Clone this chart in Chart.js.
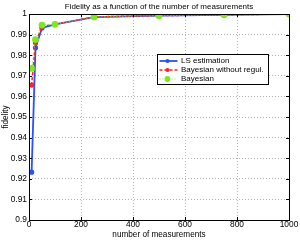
<!DOCTYPE html>
<html>
<head>
<meta charset="utf-8">
<script src="https://cdn.jsdelivr.net/npm/chart.js@4"></script>
<style>
  html, body { margin: 0; padding: 0; background: #fff; }
  #wrap { width: 300px; height: 241px; }
</style>
</head>
<body>
<div id="wrap"><canvas id="fidelity__chart"></canvas></div>
<script>
// Fidelity vs number of measurements
const measurements = [10, 25, 50, 100, 250, 500, 750, 1000];
const lsEstimation = [0.9232, 0.9836, 0.9932, 0.9950, 0.9985, 0.9992, 0.9996, 1.0000];
const bayesNoReg   = [0.9655, 0.9860, 0.9940, 0.9950, 0.9986, 0.9992, 0.9996, 1.0000];
const bayesian     = [0.9736, 0.9876, 0.9946, 0.9950, 0.9986, 0.9992, 0.9996, 1.0000];
const seriesNames  = ['LS estimation', 'Bayesian without regul.', 'Bayesian'];
const xTicks = [0, 200, 400, 600, 800, 1000];
const yTicks = [0.9, 0.91, 0.92, 0.93, 0.94, 0.95, 0.96, 0.97, 0.98, 0.99, 1];

const FONT = '"Liberation Sans", Arial, sans-serif';

function pts(ys) {
    return measurements.map((x, i) => ({ x: x, y: ys[i] }));
}

// title, box frame, inward ticks and legend box (matlab style)
const matlabBits = {
    id: 'matlabBits',
    afterDraw(chart) {
        const c = chart.ctx, a = chart.chartArea;
        const sx = chart.scales.x, sy = chart.scales.y;
        c.save();
        c.fillStyle = '#000';
        c.font = '8px ' + FONT;
        c.textAlign = 'center';
        c.textBaseline = 'middle';
        c.fillText('Fidelity as a function of the number of measurements', (a.left + a.right) / 2, 7);

        c.strokeStyle = '#000';
        c.lineWidth = 1;
        c.strokeRect(Math.round(a.left) + 0.5, Math.round(a.top) + 0.5,
            Math.round(a.right - a.left), Math.round(a.bottom - a.top));
        c.beginPath();
        sx.ticks.forEach((t, i) => {
            const px = Math.round(sx.getPixelForTick(i)) + 0.5;
            c.moveTo(px, a.bottom); c.lineTo(px, a.bottom - 3);
            c.moveTo(px, a.top); c.lineTo(px, a.top + 3);
        });
        sy.ticks.forEach((t, i) => {
            const py = Math.round(sy.getPixelForTick(i)) + 0.5;
            c.moveTo(a.left, py); c.lineTo(a.left + 3, py);
            c.moveTo(a.right, py); c.lineTo(a.right - 3, py);
        });
        c.stroke();

        // legend
        const bx = 157.5, by = 54.5, bw = 111, bh = 30;
        c.fillStyle = '#fff';
        c.fillRect(bx, by, bw, bh);
        c.strokeRect(bx, by, bw, bh);
        c.textAlign = 'left';
        chart.data.datasets.forEach((ds, i) => {
            const y = by + 6.5 + i * 9;
            c.strokeStyle = ds.borderColor;
            c.lineWidth = ds.borderWidth;
            c.setLineDash(ds.borderDash || []);
            c.beginPath();
            c.moveTo(bx + 2, y); c.lineTo(bx + 20, y);
            c.stroke();
            c.setLineDash([]);
            c.fillStyle = ds.pointBackgroundColor;
            c.beginPath();
            c.arc(bx + 10, y, ds.pointRadius - 0.5, 0, Math.PI * 2);
            c.fill();
            c.fillStyle = '#000';
            c.fillText(ds.label, bx + 23.5, y);
        });
        c.restore();
    }
};

new Chart(document.getElementById('fidelity__chart').getContext('2d'), {
    type: 'line',
    data: {
        datasets: [{
            label: seriesNames[0],
            data: pts(lsEstimation),
            borderColor: '#2a4fff',
            pointBackgroundColor: '#2a4fff',
            pointBorderWidth: 0,
            pointRadius: 2.6,
            borderWidth: 1.8,
            order: 3
        }, {
            label: seriesNames[1],
            data: pts(bayesNoReg),
            borderColor: '#ff2020',
            pointBackgroundColor: '#ff2020',
            pointBorderWidth: 0,
            pointRadius: 2.6,
            borderWidth: 1.5,
            borderDash: [3, 2],
            order: 2
        }, {
            label: seriesNames[2],
            data: pts(bayesian),
            borderColor: '#80ee20',
            pointBackgroundColor: '#7de81a',
            pointBorderWidth: 0,
            pointRadius: 3.4,
            borderWidth: 1,
            borderDash: [1, 2],
            order: 1
        }]
    },
    options: {
        responsive: true,
        maintainAspectRatio: false,
        animation: false,
        layout: { padding: { top: 14, right: 11, left: 0, bottom: 0 } },
        plugins: {
            legend: { display: false },
            tooltip: { enabled: false },
            title: { display: false }
        },
        scales: {
            x: {
                type: 'linear',
                min: 0, max: 1000,
                afterBuildTicks: s => { s.ticks = xTicks.map(v => ({ value: v })); },
                afterFit: s => { s.height = 21; },
                grid: { color: '#b4b4b4', drawTicks: false },
                border: { display: false, dash: [1, 2] },
                ticks: { font: { family: FONT, size: 8.4 }, color: '#000', padding: 0, maxRotation: 0,
                         callback: v => String(v) },
                title: { display: true, text: 'number of measurements', font: { family: FONT, size: 8.2 }, color: '#000',
                         padding: { top: 0, bottom: 1.5 } }
            },
            y: {
                type: 'linear',
                min: 0.9, max: 1,
                afterBuildTicks: s => { s.ticks = yTicks.map(v => ({ value: v })); },
                afterFit: s => { s.width = 29; },
                grid: { color: '#b4b4b4', drawTicks: false },
                border: { display: false, dash: [1, 2] },
                ticks: { font: { family: FONT, size: 8.4 }, color: '#000', padding: 2,
                         callback: v => String(Math.round(v * 100) / 100) },
                title: { display: true, text: 'fidelity', font: { family: FONT, size: 8.2 }, color: '#000', padding: 1 }
            }
        }
    },
    plugins: [matlabBits]
});
</script>
</body>
</html>
